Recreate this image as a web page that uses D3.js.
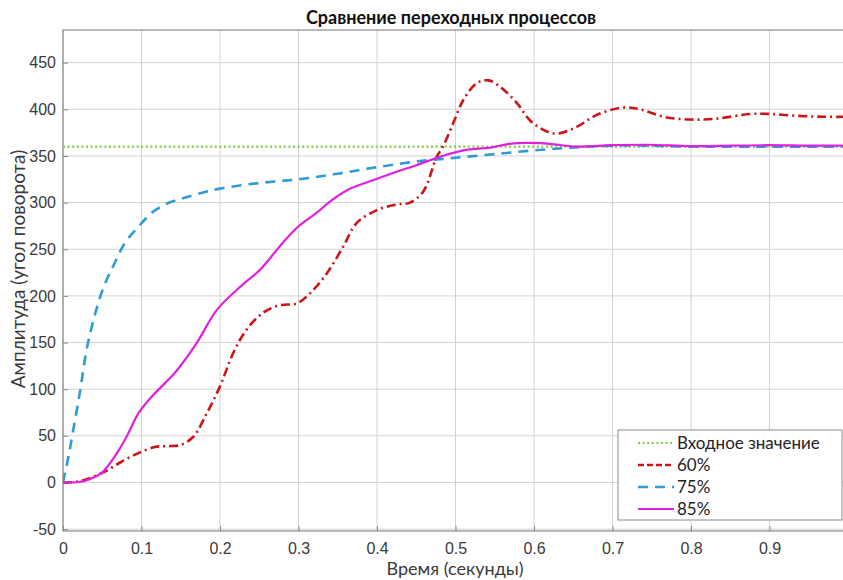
<!DOCTYPE html>
<html>
<head>
<meta charset="utf-8">
<script src="https://cdn.jsdelivr.net/npm/d3@7"></script>
<style>
  body { margin: 0; background: #fff; }
  svg { display: block; font-family: "Lato", "DejaVu Sans", sans-serif; }
  .tick text { fill: #3a3a3a; font-size: 16px; }
</style>
</head>
<body>
<svg id="chart" width="843" height="580"></svg>
<script>
// Step response readings (time in seconds, amplitude in degrees)
const tInput = [0, 1];
const vInput = [360, 360];

const t60 = [0, 0.02, 0.032, 0.054, 0.075, 0.096, 0.117, 0.13, 0.149, 0.166, 0.183, 0.2, 0.217, 0.234,
  0.255, 0.276, 0.298, 0.315, 0.336, 0.357, 0.374, 0.4, 0.425, 0.442, 0.459, 0.476, 0.484, 0.497,
  0.51, 0.527, 0.542, 0.557, 0.578, 0.595, 0.612, 0.629, 0.654, 0.68, 0.714, 0.735, 0.765, 0.799,
  0.833, 0.875, 0.9, 0.935, 0.97, 1.0];
const v60 = [0, 1, 4, 12, 22.5, 31.5, 38, 39, 40, 49, 74, 103, 139, 164,
  182, 190, 192, 203, 224, 253, 278, 292, 298, 300, 312, 349, 360, 385,
  410, 428, 431, 424, 407, 388, 378, 374, 381, 394, 402, 400, 392, 389,
  390, 395, 395, 393, 392, 392];

const t75 = [0, 0.007, 0.013, 0.022, 0.03, 0.041, 0.052, 0.064, 0.079, 0.096, 0.113, 0.13, 0.15,
  0.175, 0.2, 0.25, 0.3, 0.35, 0.4, 0.45, 0.5, 0.55, 0.6, 0.65, 0.7, 0.75, 0.8, 0.85, 0.9, 0.95, 1.0];
const v75 = [0, 28, 56, 99, 142, 181, 210, 232, 257, 274, 289, 298, 304,
  310, 315, 321, 325, 331, 338, 344, 348, 352, 356, 359, 361, 361, 360, 360, 360, 360, 360];

const t85 = [0, 0.02, 0.032, 0.049, 0.066, 0.081, 0.096, 0.113, 0.13, 0.145, 0.17, 0.196, 0.226,
  0.251, 0.276, 0.298, 0.323, 0.34, 0.366, 0.395, 0.425, 0.45, 0.48, 0.51, 0.544, 0.569, 0.595,
  0.62, 0.654, 0.7, 0.744, 0.8, 0.85, 0.9, 0.95, 1.0];
const v85 = [0, 0.5, 3, 10, 28, 49, 74, 92, 106.5, 120, 149, 185, 210,
  228, 253, 273, 289, 301, 315, 324, 333, 340, 349, 356, 359, 363, 364,
  363, 360, 361.5, 362, 360.5, 361, 361.5, 361, 361];

const xTicks = [0, 0.1, 0.2, 0.3, 0.4, 0.5, 0.6, 0.7, 0.8, 0.9];
const yTicks = [-50, 0, 50, 100, 150, 200, 250, 300, 350, 400, 450];

const series = [
  {name: "Входное значение", t: tInput, v: vInput, color: "#7ccf3a", width: 2.2, dash: "2,2.6", legendDash: "2,2.6"},
  {name: "60%", t: t60, v: v60, color: "#cc1417", width: 2.6, dash: "9,4,2,4", legendDash: "6,3"},
  {name: "75%", t: t75, v: v75, color: "#2e9ad8", width: 2.6, dash: "10,7", legendDash: "10,7"},
  {name: "85%", t: t85, v: v85, color: "#e21ee0", width: 2.2, dash: null, legendDash: null}
];

const svg = d3.select("#chart");
const x = d3.scaleLinear().domain([0, 1]).range([63, 848]);
const y = d3.scaleLinear().domain([-52, 485]).range([531, 30]);

// grid
const grid = svg.append("g");
grid.selectAll("line.gx").data(xTicks).join("line")
  .attr("x1", d => x(d)).attr("x2", d => x(d))
  .attr("y1", y.range()[1]).attr("y2", y.range()[0])
  .attr("stroke", "#d2d2d2").attr("stroke-width", 1);
grid.selectAll("line.gy").data(yTicks).join("line")
  .attr("x1", x.range()[0]).attr("x2", x.range()[1])
  .attr("y1", d => y(d)).attr("y2", d => y(d))
  .attr("stroke", "#d2d2d2").attr("stroke-width", 1);

// frame
svg.append("rect")
  .attr("x", x.range()[0]).attr("y", y.range()[1])
  .attr("width", x.range()[1] - x.range()[0]).attr("height", y.range()[0] - y.range()[1])
  .attr("fill", "none").attr("stroke", "#8a8a8a").attr("stroke-width", 1.2);

// axes, ticks pointing inward
svg.append("g")
  .attr("transform", `translate(0,${y.range()[0]})`)
  .call(d3.axisBottom(x).tickValues(xTicks).tickSize(-5).tickPadding(12)
    .tickFormat(d => d === 0 ? "0" : d3.format(".1f")(d)))
  .call(g => g.select(".domain").remove())
  .call(g => g.selectAll(".tick line").attr("stroke", "#8a8a8a"));

svg.append("g")
  .attr("transform", `translate(${x.range()[0]},0)`)
  .call(d3.axisLeft(y).tickValues(yTicks).tickSize(-5).tickPadding(7)
    .tickFormat(d => String(d)))
  .call(g => g.select(".domain").remove())
  .call(g => g.selectAll(".tick line").attr("stroke", "#8a8a8a"));

// lines
svg.append("clipPath").attr("id", "plot-clip")
  .append("rect")
  .attr("x", x.range()[0]).attr("y", y.range()[1])
  .attr("width", x.range()[1] - x.range()[0]).attr("height", y.range()[0] - y.range()[1]);

const line = d3.line()
  .x(d => x(d[0])).y(d => y(d[1]))
  .curve(d3.curveCatmullRom.alpha(0.5));

svg.append("g").attr("clip-path", "url(#plot-clip)")
  .selectAll("path").data(series).join("path")
  .attr("d", s => line(s.t.map((t, i) => [t, s.v[i]])))
  .attr("fill", "none")
  .attr("stroke", s => s.color)
  .attr("stroke-width", s => s.width)
  .attr("stroke-dasharray", s => s.dash);

// title and labels
svg.append("text")
  .attr("x", 451).attr("y", 24)
  .attr("text-anchor", "middle")
  .attr("font-size", 18).attr("font-weight", "bold").attr("fill", "#111")
  .text("Сравнение переходных процессов");

svg.append("text")
  .attr("transform", "translate(25,269) rotate(-90)")
  .attr("text-anchor", "middle")
  .attr("font-size", 19).attr("fill", "#3a3a3a")
  .text("Амплитуда (угол поворота)");

svg.append("text")
  .attr("x", 455).attr("y", 575)
  .attr("text-anchor", "middle")
  .attr("font-size", 18).attr("fill", "#3a3a3a")
  .text("Время (секунды)");

// legend
const legend = svg.append("g").attr("transform", "translate(618,430)");
legend.append("rect")
  .attr("width", 224).attr("height", 90)
  .attr("fill", "#fff").attr("stroke", "#8a8a8a").attr("stroke-width", 1);

const item = legend.selectAll("g.item").data(series).join("g")
  .attr("transform", (d, i) => `translate(0,${13 + i * 22})`);
item.append("line")
  .attr("x1", 20).attr("x2", 56)
  .attr("stroke", d => d.color)
  .attr("stroke-width", d => d.width)
  .attr("stroke-dasharray", d => d.legendDash);
item.append("text")
  .attr("x", 59).attr("y", 0).attr("dy", "0.35em")
  .attr("font-size", 17).attr("fill", "#222")
  .text(d => d.name);
</script>
</body>
</html>
